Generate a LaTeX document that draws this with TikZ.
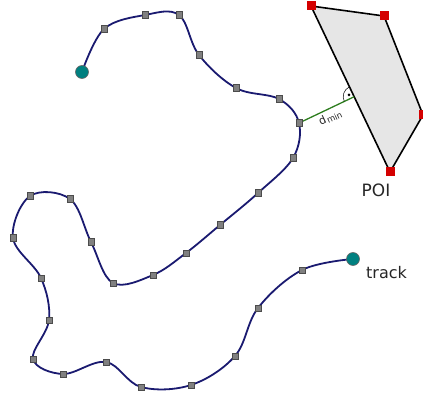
\documentclass[tikz,border=0pt]{standalone}
\usepackage{fontspec}
\setmainfont{DejaVu Sans}
\usetikzlibrary{calc}
\definecolor{trackblue}{HTML}{1A1A70}
\definecolor{stopteal}{HTML}{008080}
\definecolor{poifill}{HTML}{E6E6E6}
\definecolor{poired}{HTML}{D40000}
\definecolor{distgreen}{HTML}{2D7D1E}
\tikzset{
  trackline/.style={draw=trackblue, line width=1.8pt},
  fix/.style={rectangle, draw=black!70, fill=black!50, minimum size=6.5pt, inner sep=0pt, line width=0.5pt},
  corner/.style={rectangle, fill=poired, minimum size=9pt, inner sep=0pt},
  endpt/.style={circle, draw=black!60, fill=stopteal, minimum size=13pt, inner sep=0pt, line width=0.6pt},
  lbl/.style={inner sep=0pt, text=black!85}
}
\begin{document}
\begin{tikzpicture}[x=1pt,y=-1pt]
\useasboundingbox (0,0) rectangle (423,398);

% polygon of interest
\coordinate (c1) at (311,6);
\coordinate (c2) at (384,16);
\coordinate (c3) at (423,115);
\coordinate (c4) at (390,172);
\draw[fill=poifill, line width=1.6pt, line join=round] (c1) -- (c2) -- (c3) -- (c4) -- cycle;

% track samples
\coordinate (t0) at (82,72);
\coordinate (t1) at (104,29);
\coordinate (t2) at (145,15);
\coordinate (t3) at (179,15);
\coordinate (t4) at (199,55);
\coordinate (t5) at (236,88);
\coordinate (t6) at (279,99);
\coordinate (t7) at (299,123);
\coordinate (t8) at (293,158);
\coordinate (t9) at (258,193);
\coordinate (t10) at (220,225);
\coordinate (t11) at (186,253);
\coordinate (t12) at (153,275);
\coordinate (t13) at (113,283);
\coordinate (t14) at (91,242);
\coordinate (t15) at (70,199);
\coordinate (t16) at (30,196);
\coordinate (t17) at (13,238);
\coordinate (t18) at (41,278);
\coordinate (t19) at (49,320);
\coordinate (t20) at (33,359);
\coordinate (t21) at (63,374);
\coordinate (t22) at (106,362);
\coordinate (t23) at (141,387);
\coordinate (t24) at (191,385);
\coordinate (t25) at (235,356);
\coordinate (t26) at (258,308);
\coordinate (t27) at (302,270);
\coordinate (t28) at (353,259);

\draw[trackline] plot[smooth, tension=0.6] coordinates {(t0) (t1) (t2) (t3) (t4) (t5) (t6) (t7) (t8) (t9) (t10) (t11) (t12) (t13) (t14) (t15) (t16) (t17) (t18) (t19) (t20) (t21) (t22) (t23) (t24) (t25) (t26) (t27) (t28)};

% shortest distance to the polygon edge
\coordinate (foot) at ($(c1)!(t7)!(c4)$);
\draw[distgreen, line width=1.3pt] (t7) -- node[sloped, below=2.5pt, lbl] {\fontsize{11}{11}\selectfont d\kern0.6pt\raisebox{-0.35ex}{\fontsize{8.5}{8.5}\selectfont min}} (foot);

% right-angle mark
\draw[line width=0.5pt] ($(foot)!11pt!(t7)$) arc[start angle=154.6, end angle=244.5, radius=11];
\fill ($(foot)+(199.5:5.5)$) circle[radius=1.4pt];

% sample markers
\foreach \i in {1,...,27} { \node[fix] (m\i) at (t\i) {}; }
\node[endpt] (start) at (t0) {};
\node[endpt] (finish) at (t28) {};

% polygon corners
\foreach \i in {1,...,4} { \node[corner] (k\i) at (c\i) {}; }

% labels
\node[lbl, font=\fontsize{17}{17}\selectfont] (poi) at (376,190) {POI};
\node[lbl, font=\fontsize{16}{16}\selectfont, anchor=base west] (trk) at (366,278) {track};
\end{tikzpicture}
\end{document}
